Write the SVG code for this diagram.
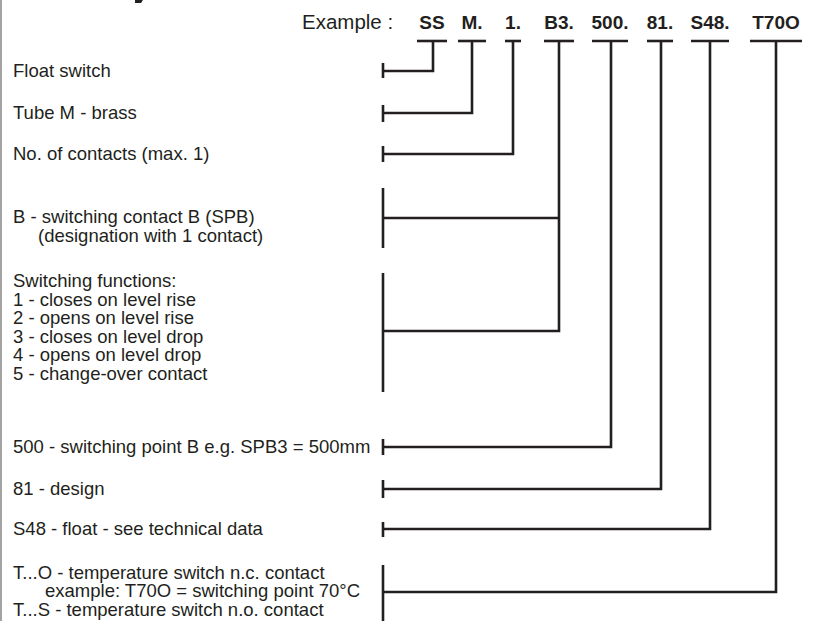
<svg xmlns="http://www.w3.org/2000/svg" width="817" height="621" viewBox="0 0 817 621">
<defs>
<style>
.c{stroke:#231f20;stroke-width:2.6;fill:none;stroke-linecap:butt;stroke-linejoin:miter}
.t{font-family:"Liberation Sans",Arial,Helvetica,sans-serif;font-size:18.5px;fill:#231f20}
.ex{font-size:20.5px}
.code{font-weight:bold;font-size:19px;text-anchor:middle}
</style>
</defs>
<rect x="0" y="0" width="817" height="621" fill="#ffffff"/>
<line x1="1" y1="0" x2="1" y2="621" stroke="#a3a3a3" stroke-width="2"/>
<path d="M135,0 L143,0 L141,3 L135,3 Z" fill="#231f20"/>

<g id="header">
<text class="t ex" x="302" y="29">Example :</text>
</g>
<g id="code-SS"><text class="t code" x="432" y="29">SS</text><line class="c" x1="417" y1="41" x2="447" y2="41"/></g>
<g id="code-M"><text class="t code" x="472" y="29">M.</text><line class="c" x1="458" y1="41" x2="486" y2="41"/></g>
<g id="code-1"><text class="t code" x="513" y="29">1.</text><line class="c" x1="505" y1="41" x2="521" y2="41"/></g>
<g id="code-B3"><text class="t code" x="559" y="29">B3.</text><line class="c" x1="544" y1="41" x2="574" y2="41"/></g>
<g id="code-500"><text class="t code" x="610" y="29">500.</text><line class="c" x1="592" y1="41" x2="628" y2="41"/></g>
<g id="code-81"><text class="t code" x="660" y="29">81.</text><line class="c" x1="647" y1="41" x2="673" y2="41"/></g>
<g id="code-S48"><text class="t code" x="710" y="29">S48.</text><line class="c" x1="691" y1="41" x2="729" y2="41"/></g>
<g id="code-T70O"><text class="t code" x="776" y="29">T70O</text><line class="c" x1="750" y1="41" x2="802" y2="41"/></g>

<g id="label-float"><text class="t" x="13" y="77">Float switch</text></g>
<g id="label-tube"><text class="t" x="13" y="119">Tube M - brass</text></g>
<g id="label-contacts"><text class="t" x="13" y="160">No. of contacts (max. 1)</text></g>
<g id="label-B"><text class="t" x="13" y="223">B - switching contact B (SPB)</text><text class="t" x="38" y="241.6">(designation with 1 contact)</text></g>
<g id="label-functions">
<text class="t" x="13" y="287">Switching functions:</text>
<text class="t" x="13" y="305.6">1 - closes on level rise</text>
<text class="t" x="13" y="324.2">2 - opens on level rise</text>
<text class="t" x="13" y="342.8">3 - closes on level drop</text>
<text class="t" x="13" y="361.4">4 - opens on level drop</text>
<text class="t" x="13" y="380">5 - change-over contact</text>
</g>
<g id="label-500"><text class="t" x="13" y="453">500 - switching point B e.g. SPB3 = 500mm</text></g>
<g id="label-81"><text class="t" x="13" y="495">81 - design</text></g>
<g id="label-S48"><text class="t" x="13" y="535">S48 - float - see technical data</text></g>
<g id="label-T">
<text class="t" x="13" y="578.5">T...O - temperature switch n.c. contact</text>
<text class="t" x="45" y="597">example: T70O = switching point 70°C</text>
<text class="t" x="13" y="615.6">T...S - temperature switch n.o. contact</text>
</g>

<g id="connectors">
<polyline class="c" points="433,41 433,71 383,71"/>
<line class="c" x1="383" y1="63" x2="383" y2="78"/>
<polyline class="c" points="472,41 472,113 383,113"/>
<line class="c" x1="383" y1="105" x2="383" y2="122"/>
<polyline class="c" points="513,41 513,154 383,154"/>
<line class="c" x1="383" y1="146" x2="383" y2="162"/>
<polyline class="c" points="559,41 559,331 383,331"/>
<line class="c" x1="559" y1="218" x2="383" y2="218"/>
<line class="c" x1="383" y1="188" x2="383" y2="248"/>
<line class="c" x1="383" y1="273" x2="383" y2="392"/>
<polyline class="c" points="611,41 611,447 383,447"/>
<line class="c" x1="383" y1="439" x2="383" y2="455"/>
<polyline class="c" points="661,41 661,489 383,489"/>
<line class="c" x1="383" y1="480" x2="383" y2="498"/>
<polyline class="c" points="710,41 710,529 383,529"/>
<line class="c" x1="383" y1="522" x2="383" y2="537"/>
<polyline class="c" points="776,41 776,592 383,592"/>
<line class="c" x1="383" y1="565" x2="383" y2="621"/>
</g>
</svg>
